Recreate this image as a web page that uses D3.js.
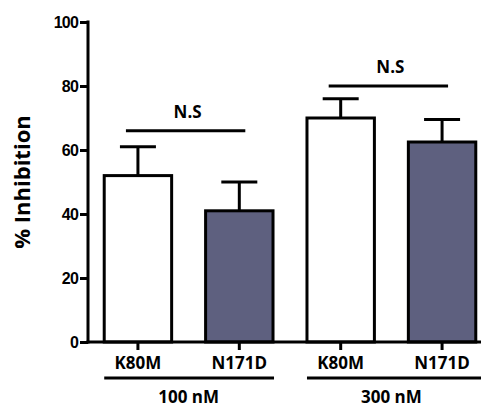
<!DOCTYPE html>
<html>
<head>
<meta charset="utf-8">
<script src="https://cdn.jsdelivr.net/npm/d3@7"></script>
<style>
  body { margin: 0; background: #fff; }
</style>
</head>
<body>
<div id="chart"></div>
<script>
// data
const mutants = ["K80M", "N171D", "K80M", "N171D"];
const doses = ["100 nM", "300 nM"];
const means = [52, 41, 70, 62.5];
const errors = [9, 9, 6, 7];
const yTicks = [0, 20, 40, 60, 80, 100];
const sigLabels = ["N.S", "N.S"];
const sigLevels = [66, 80];

const W = 481, H = 407;
const labelFont = "'Open Sans', Lato, sans-serif";
const svg = d3.select("#chart").append("svg")
  .attr("width", W).attr("height", H);

const x0 = 88, x1 = 481;
const y = d3.scaleLinear().domain([0, 100]).range([342, 22]);

const x = d3.scaleBand()
  .domain(d3.range(4))
  .range([88, 492])
  .paddingInner(0.335)
  .paddingOuter(0.16);

const fills = ["#ffffff", "#5e607f", "#ffffff", "#5e607f"];

// y axis
const yAxis = svg.append("g")
  .attr("transform", `translate(${x0},0)`)
  .call(d3.axisLeft(y).tickValues(yTicks).tickSize(8).tickPadding(2));
yAxis.select(".domain").remove();
yAxis.selectAll(".tick line").attr("stroke", "#000").attr("stroke-width", 3);
yAxis.selectAll(".tick text")
  .attr("fill", "#000")
  .style("font-family", "'Liberation Sans', Arial, sans-serif")
  .style("font-weight", "700")
  .style("font-size", "16px")
  .style("letter-spacing", "-0.8px");
svg.append("line")
  .attr("x1", x0).attr("x2", x0)
  .attr("y1", y(100) - 1.5).attr("y2", y(0) + 1.5)
  .attr("stroke", "#000").attr("stroke-width", 3);

function label(sel, size) {
  return sel.attr("fill", "#000")
    .style("font-family", labelFont)
    .style("font-weight", "700")
    .style("font-size", size + "px");
}

// y label
label(svg.append("text"), 22)
  .attr("transform", `translate(30,${(y(0) + y(100)) / 2}) rotate(-90)`)
  .attr("text-anchor", "middle")
  .text("%  Inhibition");

// error bars
const eb = svg.append("g");
means.forEach((m, i) => {
  const cx = x(i) + x.bandwidth() / 2;
  eb.append("line")
    .attr("x1", cx).attr("x2", cx)
    .attr("y1", y(m)).attr("y2", y(m + errors[i]))
    .attr("stroke", "#000").attr("stroke-width", 3);
  eb.append("line")
    .attr("x1", cx - 18).attr("x2", cx + 18)
    .attr("y1", y(m + errors[i])).attr("y2", y(m + errors[i]))
    .attr("stroke", "#000").attr("stroke-width", 3);
});

// bars
svg.selectAll("rect.bar")
  .data(means)
  .enter()
  .append("rect")
  .attr("class", "bar")
  .attr("x", (d, i) => x(i))
  .attr("y", d => y(d))
  .attr("width", x.bandwidth())
  .attr("height", d => y(0) - y(d))
  .attr("fill", (d, i) => fills[i])
  .attr("stroke", "#000")
  .attr("stroke-width", 3);

// x axis
svg.append("line")
  .attr("x1", x0 - 1.5).attr("x2", x1)
  .attr("y1", y(0)).attr("y2", y(0))
  .attr("stroke", "#000").attr("stroke-width", 3);

mutants.forEach((lab, i) => {
  const cx = x(i) + x.bandwidth() / 2;
  svg.append("line")
    .attr("x1", cx).attr("x2", cx)
    .attr("y1", y(0)).attr("y2", y(0) + 8)
    .attr("stroke", "#000").attr("stroke-width", 3);
  label(svg.append("text"), 17)
    .attr("x", cx).attr("y", 369)
    .attr("text-anchor", "middle")
    .text(lab);
});

// dose groups
doses.forEach((d, g) => {
  const left = x(g * 2);
  const right = g === 1 ? x1 : x(g * 2 + 1) + x.bandwidth() + 1;
  svg.append("line")
    .attr("x1", left).attr("x2", right)
    .attr("y1", 378).attr("y2", 378)
    .attr("stroke", "#000").attr("stroke-width", 3);
  const mid = (x(g * 2) + x(g * 2 + 1) + x.bandwidth()) / 2;
  label(svg.append("text"), 17)
    .attr("x", mid).attr("y", 403)
    .attr("text-anchor", "middle")
    .text(d);
});

// significance brackets
sigLabels.forEach((s, g) => {
  const c1 = x(g * 2) + x.bandwidth() / 2;
  const c2 = x(g * 2 + 1) + x.bandwidth() / 2;
  const half = (c2 - c1) / 2 + 5;
  const mid = (c1 + c2) / 2 - 3;
  svg.append("line")
    .attr("x1", mid - half - 4).attr("x2", mid + half + 4)
    .attr("y1", y(sigLevels[g])).attr("y2", y(sigLevels[g]))
    .attr("stroke", "#000").attr("stroke-width", 3);
  label(svg.append("text"), 17)
    .attr("x", mid + 2).attr("y", y(sigLevels[g]) - 13)
    .attr("text-anchor", "middle")
    .text(s);
});
</script>
</body>
</html>
